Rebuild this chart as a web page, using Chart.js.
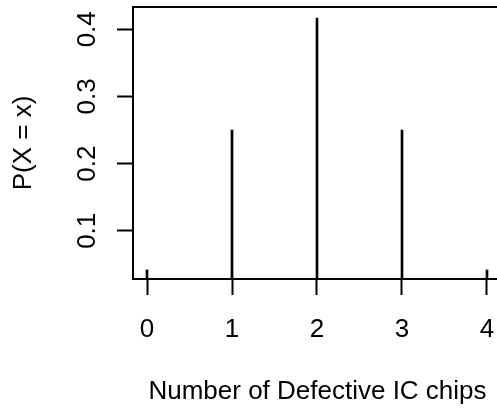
<!DOCTYPE html>
<html>
<head>
<meta charset="utf-8">
<script src="https://cdn.jsdelivr.net/npm/chart.js@4.4.1/dist/chart.umd.min.js"></script>
<style>
  html, body { margin: 0; padding: 0; background: #fff; overflow: hidden; width: 497px; height: 408px; }
  canvas { display: block; }
</style>
</head>
<body>
<canvas id="c" width="510" height="408"></canvas>
<script>
// Data
const categories = [0, 1, 2, 3, 4];                 // number of defective IC chips
const probabilities = [1/24, 6/24, 10/24, 6/24, 1/24]; // P(X = x)
const xTickLabels = ['0', '1', '2', '3', '4'];
const yTickValues = [0.1, 0.2, 0.3, 0.4];
const xTitle = 'Number of Defective IC chips';
const yTitle = 'P(X = x)';

const FONT = '"Liberation Sans", Arial, Helvetica, sans-serif';

const boxPlugin = {
  id: 'box',
  afterDraw(chart) {
    const { ctx, chartArea: a } = chart;
    ctx.save();
    ctx.strokeStyle = '#000';
    ctx.lineWidth = 2;
    ctx.strokeRect(a.left, a.top, a.right - a.left, a.bottom - a.top);
    ctx.restore();
  }
};

new Chart(document.getElementById('c'), {
  type: 'bar',
  data: {
    datasets: [{
      data: categories.map((x, i) => ({ x: x, y: probabilities[i] })),
      backgroundColor: '#000',
      borderWidth: 0,
      barThickness: 2,
      clip: 0
    }]
  },
  options: {
    responsive: false,
    animation: false,
    events: [],
    layout: { padding: { top: 7, right: 8, bottom: 0, left: 0 } },
    plugins: { legend: { display: false }, tooltip: { enabled: false } },
    scales: {
      x: {
        type: 'linear',
        offset: false,
        min: -14 / 85,
        max: 4 + 15 / 85,
        afterBuildTicks(s) { s.ticks = categories.map(v => ({ value: v })); },
        afterFit(s) { s.height = 129; s.paddingLeft = 0; s.paddingRight = 0; },
        ticks: {
          callback: (v) => xTickLabels[categories.indexOf(v)],
          color: '#000',
          font: { family: FONT, size: 26 },
          padding: 19,
          maxRotation: 0,
          autoSkip: false
        },
        grid: { display: true, offset: false, drawOnChartArea: false, drawTicks: true, tickLength: 16, tickWidth: 2, tickColor: '#000' },
        border: { display: true, color: '#000', width: 2 },
        title: {
          display: true,
          text: xTitle,
          color: '#000',
          font: { family: FONT, size: 26 },
          padding: { top: 0, bottom: 1 }
        }
      },
      y: {
        type: 'linear',
        min: 0.0282,
        max: 0.4332,
        afterBuildTicks(s) { s.ticks = yTickValues.map(v => ({ value: v })); },
        afterFit(s) { s.width = 133; s.paddingTop = 0; s.paddingBottom = 0; },
        ticks: {
          callback: (v) => v.toFixed(1),
          color: '#000',
          font: { family: FONT, size: 26 },
          minRotation: 90,
          maxRotation: 90,
          crossAlign: 'center',
          padding: 11,
          autoSkip: false
        },
        grid: { display: true, drawOnChartArea: false, drawTicks: true, tickLength: 16, tickWidth: 2, tickColor: '#000' },
        border: { display: true, color: '#000', width: 2 },
        title: {
          display: true,
          text: yTitle,
          color: '#000',
          font: { family: FONT, size: 26 },
          padding: { top: 8, bottom: 0 }
        }
      }
    }
  },
  plugins: [boxPlugin]
});
</script>
</body>
</html>
